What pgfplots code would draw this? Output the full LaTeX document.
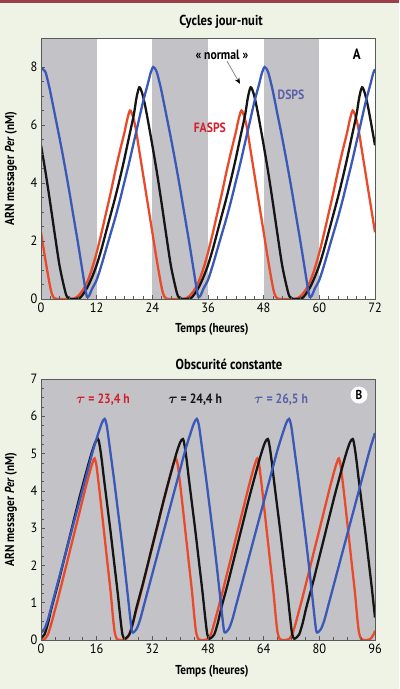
\documentclass[border=0pt]{standalone}
\usepackage{fontspec}
\setmainfont{PT Sans}[FakeStretch=0.87]
\newfontfamily\tickfont{PT Sans}[FakeStretch=0.92]
\usepackage{pgfplots}
\pgfplotsset{compat=1.18}
\usetikzlibrary{arrows.meta}
\definecolor{bgc}{HTML}{EEF3E6}
\definecolor{barc}{HTML}{9B3F4A}
\definecolor{shade}{HTML}{C3C3C7}
\definecolor{cred}{HTML}{EA4A2A}
\definecolor{cblue}{HTML}{3A58B8}
\definecolor{cblack}{HTML}{151515}
\definecolor{tred}{HTML}{D3202E}
\definecolor{tblue}{HTML}{5962A8}
\pgfplotsset{
  myax/.style={scale only axis, width=334bp, height=261bp, axis on top,
    axis line style={draw=black!65, line width=0.8bp},
    tick pos=left, tick style={black!65, line width=0.6bp},
    major tick length=4bp, minor tick length=2.5bp,
    tick label style={font=\tickfont\fontsize{13.5}{13.5}\selectfont},
    /pgf/number format/assume math mode=true,
    label style={font=\bfseries\fontsize{13}{13}\selectfont},
    title style={font=\bfseries\fontsize{14.5}{15}\selectfont},
    y label style={at={(axis description cs:-0.09,0.5)}, anchor=center},
  },
  curve/.style={smooth, line width=2.3bp, no markers},
}
\begin{document}
\begin{tikzpicture}[x=1bp,y=1bp]
\fill[bgc] (0,0) rectangle (399,689);
\fill[barc] (0,685.5) rectangle (399,689);

% ---------- Panel A ----------
\begin{axis}[myax, at={(41bp,390bp)}, anchor=south west,
  xmin=0, xmax=72, ymin=0, ymax=9,
  xtick={0,12,...,72}, minor x tick num=5,
  ytick={0,2,4,6,8}, minor y tick num=3,
  axis background/.style={fill=white},
  title={Cycles jour-nuit},
  title style={at={(axis description cs:0.539,1)}, anchor=south, yshift=0bp},
  xlabel={Temps (heures)},
  x label style={at={(axis description cs:0.512,-0.118)}, anchor=center},
  ylabel={ARN messager \textit{Per} (nM)},
]
\addplot[draw=none, fill=shade, forget plot] coordinates {(0,9) (12,9)} \closedcycle;
\addplot[draw=none, fill=shade, forget plot] coordinates {(24,9) (36,9)} \closedcycle;
\addplot[draw=none, fill=shade, forget plot] coordinates {(48,9) (60,9)} \closedcycle;
% FASPS
\addplot[curve, cred] coordinates {
(0,2.3)(1,1.3)(2,0.4)(2.6,0.08)(3.5,0)(6.5,0)(7.3,0.03)(8,0.1)(9,0.3)(10,0.6)(11,1.05)(12,1.6)(13,2.25)(14,2.95)(15,3.65)(16,4.4)(17,5.1)(18,5.75)(18.6,6.2)(19.2,6.5)(19.8,6.3)(20.4,5.9)(21,5.3)(22,4.3)(23,3.3)
(24,2.3)(25,1.3)(26,0.4)(26.6,0.08)(27.5,0)(30.5,0)(31.3,0.03)(32,0.1)(33,0.3)(34,0.6)(35,1.05)(36,1.6)(37,2.25)(38,2.95)(39,3.65)(40,4.4)(41,5.1)(42,5.75)(42.6,6.2)(43.2,6.5)(43.8,6.3)(44.4,5.9)(45,5.3)(46,4.3)(47,3.3)
(48,2.3)(49,1.3)(50,0.4)(50.6,0.08)(51.5,0)(54.5,0)(55.3,0.03)(56,0.1)(57,0.3)(58,0.6)(59,1.05)(60,1.6)(61,2.25)(62,2.95)(63,3.65)(64,4.4)(65,5.1)(66,5.75)(66.6,6.2)(67.2,6.5)(67.8,6.3)(68.4,5.9)(69,5.3)(70,4.3)(71,3.3)(72,2.3)
};
% normal
\addplot[curve, cblack] coordinates {
(0,5.3)(1,4.35)(2,3.3)(3,2.2)(4,1.15)(5,0.4)(5.6,0.08)(6.5,0)(7.5,0)(8.5,0.05)(9,0.15)(10,0.4)(11,0.75)(12,1.17)(13,1.7)(14,2.3)(15,2.9)(16,3.5)(17,4.15)(18,4.85)(19,5.6)(20,6.35)(20.6,6.95)(21.2,7.3)(21.8,7.1)(22.4,6.7)(23,6.2)
(24,5.3)(25,4.35)(26,3.3)(27,2.2)(28,1.15)(29,0.4)(29.6,0.08)(30.5,0)(31.5,0)(32.5,0.05)(33,0.15)(34,0.4)(35,0.75)(36,1.17)(37,1.7)(38,2.3)(39,2.9)(40,3.5)(41,4.15)(42,4.85)(43,5.6)(44,6.35)(44.6,6.95)(45.2,7.3)(45.8,7.1)(46.4,6.7)(47,6.2)
(48,5.3)(49,4.35)(50,3.3)(51,2.2)(52,1.15)(53,0.4)(53.6,0.08)(54.5,0)(55.5,0)(56.5,0.05)(57,0.15)(58,0.4)(59,0.75)(60,1.17)(61,1.7)(62,2.3)(63,2.9)(64,3.5)(65,4.15)(66,4.85)(67,5.6)(68,6.35)(68.6,6.95)(69.2,7.3)(69.8,7.1)(70.4,6.7)(71,6.2)(72,5.3)
};
% DSPS
\addplot[curve, cblue] coordinates {
(0,7.97)(0.9,7.85)(1.5,7.5)(2,7.15)(3,6.35)(4,5.55)(5,4.7)(6,3.8)(7,2.85)(8,1.9)(9,0.9)(9.5,0.4)(9.9,0.08)(10.4,0.12)(11,0.35)(12,0.66)(13,1.15)(14,1.7)(15,2.25)(16,2.8)(17,3.4)(18,4.05)(19,4.7)(20,5.4)(21,6.1)(22,6.8)(23,7.4)(23.6,7.78)
(24.2,8.0)(24.9,7.85)(25.5,7.5)(26,7.15)(27,6.35)(28,5.55)(29,4.7)(30,3.8)(31,2.85)(32,1.9)(33,0.9)(33.5,0.4)(33.9,0.08)(34.4,0.12)(35,0.35)(36,0.66)(37,1.15)(38,1.7)(39,2.25)(40,2.8)(41,3.4)(42,4.05)(43,4.7)(44,5.4)(45,6.1)(46,6.8)(47,7.4)(47.6,7.78)
(48.2,8.0)(48.9,7.85)(49.5,7.5)(50,7.15)(51,6.35)(52,5.55)(53,4.7)(54,3.8)(55,2.85)(56,1.9)(57,0.9)(57.5,0.4)(57.9,0.08)(58.4,0.12)(59,0.35)(60,0.66)(61,1.15)(62,1.7)(63,2.25)(64,2.8)(65,3.4)(66,4.05)(67,4.7)(68,5.4)(69,6.1)(70,6.8)(71,7.4)(71.6,7.78)(72,7.92)
};
\node[font=\bfseries\fontsize{13.5}{13.5}\selectfont] at (axis cs:39,8.43) {«~normal~»};
\draw[black!45, line width=0.8bp, -{Stealth[length=6bp,width=5bp,color=black]}] (axis cs:40.1,8.2) -- (axis cs:42.9,7.42);
\node[font=\bfseries\fontsize{13.5}{13.5}\selectfont, text=tblue] at (axis cs:53.9,7.04) {DSPS};
\node[font=\bfseries\fontsize{13.5}{13.5}\selectfont, text=tred] at (axis cs:36.4,5.9) {FASPS};
\node[font=\bfseries\fontsize{15}{15}\selectfont] at (axis cs:68.1,8.43) {A};
\end{axis}

% ---------- Panel B ----------
\begin{axis}[myax, at={(41bp,49bp)}, anchor=south west,
  xmin=0, xmax=96, ymin=0, ymax=7,
  xtick={0,16,...,96}, minor x tick num=3,
  ytick={0,1,...,7}, minor y tick num=3,
  axis background/.style={fill=shade},
  title={Obscurité constante},
  title style={at={(axis description cs:0.563,1)}, anchor=south, yshift=0bp},
  xlabel={Temps (heures)},
  x label style={at={(axis description cs:0.512,-0.12)}, anchor=center},
  ylabel={ARN messager \textit{Per} (nM)},
]
% tau 23.4
\addplot[curve, cred] coordinates {
(0,0)(1,0.02)(2,0.15)(3,0.45)(4,0.8)(5,1.15)(7,1.9)(9,2.65)(11,3.4)(13,4.15)(14.3,4.6)(15,4.8)(15.4,4.87)(15.9,4.7)(16.5,4.25)(17,3.85)(18,3.0)(19,2.15)(20,1.3)(20.7,0.6)(21.2,0.2)(21.8,0.03)(22.5,0)(23.4,0)
(24.4,0.02)(25.4,0.15)(26.4,0.45)(27.4,0.8)(28.4,1.15)(30.4,1.9)(32.4,2.65)(34.4,3.4)(36.4,4.15)(37.7,4.6)(38.4,4.8)(38.8,4.87)(39.3,4.7)(39.9,4.25)(40.4,3.85)(41.4,3.0)(42.4,2.15)(43.4,1.3)(44.1,0.6)(44.6,0.2)(45.2,0.03)(45.9,0)(46.8,0)
(47.8,0.02)(48.8,0.15)(49.8,0.45)(50.8,0.8)(51.8,1.15)(53.8,1.9)(55.8,2.65)(57.8,3.4)(59.8,4.15)(61.1,4.6)(61.8,4.8)(62.2,4.87)(62.7,4.7)(63.3,4.25)(63.8,3.85)(64.8,3.0)(65.8,2.15)(66.8,1.3)(67.5,0.6)(68.0,0.2)(68.6,0.03)(69.3,0)(70.2,0)
(71.2,0.02)(72.2,0.15)(73.2,0.45)(74.2,0.8)(75.2,1.15)(77.2,1.9)(79.2,2.65)(81.2,3.4)(83.2,4.15)(84.5,4.6)(85.2,4.8)(85.6,4.87)(86.1,4.7)(86.7,4.25)(87.2,3.85)(88.2,3.0)(89.2,2.15)(90.2,1.3)(90.9,0.6)(91.4,0.2)(92.0,0.03)(92.7,0)(93.6,0)(94.6,0.02)(95.6,0.15)(96,0.25)
};
% tau 24.4
\addplot[curve, cblack] coordinates {
(0,0.05)(1,0.15)(2,0.45)(3,0.85)(4,1.2)(5,1.55)(7,2.3)(9,3.05)(11,3.8)(13,4.5)(14.5,5.0)(15.6,5.3)(16.4,5.39)(16.9,5.2)(17.5,4.8)(18,4.4)(19,3.65)(20,2.9)(21,2.1)(22,1.3)(22.8,0.6)(23.4,0.15)(24,0.03)
(24.4,0.05)(25.4,0.15)(26.4,0.45)(27.4,0.85)(28.4,1.2)(29.4,1.55)(31.4,2.3)(33.4,3.05)(35.4,3.8)(37.4,4.5)(38.9,5.0)(40.0,5.3)(40.8,5.39)(41.3,5.2)(41.9,4.8)(42.4,4.4)(43.4,3.65)(44.4,2.9)(45.4,2.1)(46.4,1.3)(47.2,0.6)(47.8,0.15)(48.4,0.03)
(48.8,0.05)(49.8,0.15)(50.8,0.45)(51.8,0.85)(52.8,1.2)(53.8,1.55)(55.8,2.3)(57.8,3.05)(59.8,3.8)(61.8,4.5)(63.3,5.0)(64.4,5.3)(65.2,5.39)(65.7,5.2)(66.3,4.8)(66.8,4.4)(67.8,3.65)(68.8,2.9)(69.8,2.1)(70.8,1.3)(71.6,0.6)(72.2,0.15)(72.8,0.03)
(73.2,0.05)(74.2,0.15)(75.2,0.45)(76.2,0.85)(77.2,1.2)(78.2,1.55)(80.2,2.3)(82.2,3.05)(84.2,3.8)(86.2,4.5)(87.7,5.0)(88.8,5.3)(89.6,5.39)(90.1,5.2)(90.7,4.8)(91.2,4.4)(92.2,3.65)(93.2,2.9)(94.2,2.1)(95.2,1.3)(96,0.6)
};
% tau 26.5
\addplot[curve, cblue] coordinates {
(0,0.2)(1,0.3)(2,0.55)(3,0.9)(5,1.6)(7,2.3)(9,3.0)(11,3.7)(13,4.4)(15,5.1)(16.5,5.55)(17.5,5.82)(18.3,5.93)(18.9,5.75)(19.5,5.35)(20,5.0)(21,4.3)(22,3.55)(23,2.8)(24,2.0)(25,1.15)(25.7,0.55)(26.1,0.25)
(26.5,0.2)(27.5,0.3)(28.5,0.55)(29.5,0.9)(31.5,1.6)(33.5,2.3)(35.5,3.0)(37.5,3.7)(39.5,4.4)(41.5,5.1)(43,5.55)(44,5.82)(44.8,5.93)(45.4,5.75)(46,5.35)(46.5,5.0)(47.5,4.3)(48.5,3.55)(49.5,2.8)(50.5,2.0)(51.5,1.15)(52.2,0.55)(52.6,0.25)
(53,0.2)(54,0.3)(55,0.55)(56,0.9)(58,1.6)(60,2.3)(62,3.0)(64,3.7)(66,4.4)(68,5.1)(69.5,5.55)(70.5,5.82)(71.3,5.93)(71.9,5.75)(72.5,5.35)(73,5.0)(74,4.3)(75,3.55)(76,2.8)(77,2.0)(78,1.15)(78.7,0.55)(79.1,0.25)
(79.5,0.2)(80.5,0.3)(81.5,0.55)(82.5,0.9)(84.5,1.6)(86.5,2.3)(88.5,3.0)(90.5,3.7)(92.5,4.4)(94.5,5.1)(96,5.55)
};
\node[font=\bfseries\fontsize{13.5}{13.5}\selectfont, text=tred] at (axis cs:17.8,6.44) {{\boldmath$\tau$} = 23,4 h};
\node[font=\bfseries\fontsize{13.5}{13.5}\selectfont, text=cblack] at (axis cs:44.3,6.44) {{\boldmath$\tau$} = 24,4 h};
\node[font=\bfseries\fontsize{13.5}{13.5}\selectfont, text=tblue] at (axis cs:69.0,6.44) {{\boldmath$\tau$} = 26,5 h};
\node[circle, fill=white, inner sep=0pt, minimum size=17bp, font=\bfseries\fontsize{13}{13}\selectfont] at (axis cs:91.4,6.57) {B};
\end{axis}
\end{tikzpicture}
\end{document}
